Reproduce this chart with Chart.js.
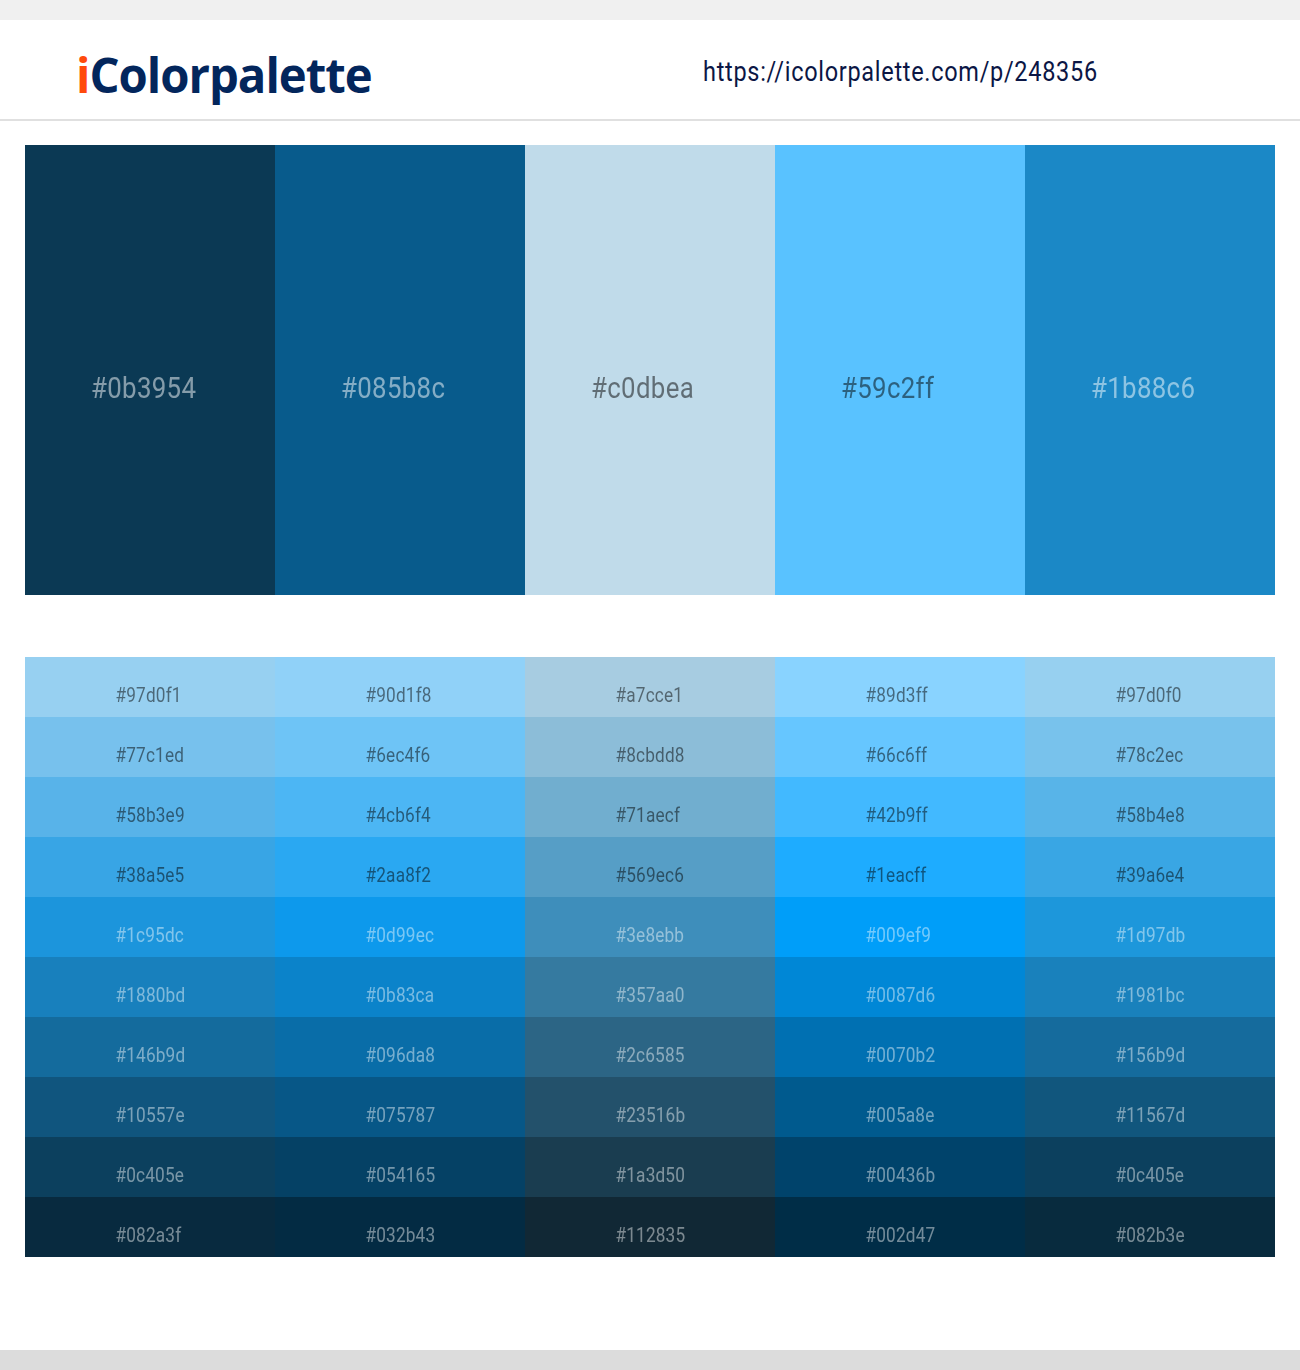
<!DOCTYPE html>
<html>
<head>
<meta charset="utf-8">
<title>iColorpalette 248356</title>
<script src="https://cdn.jsdelivr.net/npm/chart.js@4"></script>
<style>
  html, body { margin: 0; padding: 0; background: #fff; }
  #page { position: relative; width: 1300px; height: 1370px; overflow: hidden; }
  #topBand { position: absolute; left: 0; top: 0; width: 1300px; height: 20px; background: #f0f0f0; }
  #headerLine { position: absolute; left: 0; top: 119px; width: 1300px; height: 2px; background: #e0e0e0; }
  #footBand { position: absolute; left: 0; top: 1350px; width: 1300px; height: 20px; background: #dcdcdc; }
  #logo { position: absolute; left: 76px; top: 41px; font: bold 48px/68px "Open Sans", sans-serif; color: #03265c;
    white-space: nowrap; transform-origin: 0 0; transform: scaleX(0.984); letter-spacing: -1px; }
  #logo span { color: #ff4a0c; }
  #url { position: absolute; left: 703px; top: 54px; font: 27px/36px Roboto, sans-serif; color: #0b1645;
    white-space: nowrap; transform-origin: 0 0; transform: scaleX(0.87); letter-spacing: 0.81px; }
  #mainChart { position: absolute; left: 25px; top: 145px; }
  #shadeChart { position: absolute; left: 25px; top: 657px; }
</style>
</head>
<body>
<div id="page">
  <div id="topBand"></div>
  <div id="logo"><span>i</span>Colorpalette</div>
  <div id="url">https://icolorpalette.com/p/248356</div>
  <div id="headerLine"></div>
  <canvas id="mainChart" width="1250" height="450"></canvas>
  <canvas id="shadeChart" width="1250" height="600"></canvas>
  <div id="footBand"></div>
</div>
<script>
'use strict';

const columns = ['1', '2', '3', '4', '5'];
const mainColors = ['#0b3954', '#085b8c', '#c0dbea', '#59c2ff', '#1b88c6'];
const mainValues = [1, 1, 1, 1, 1];
const mainLabelColors = ['rgba(255,255,255,.5)', 'rgba(255,255,255,.5)', 'rgba(0,0,0,.5)', 'rgba(0,0,0,.5)', 'rgba(255,255,255,.5)'];

// one list per row of the lower table
const shade1 = ['#97d0f1', '#90d1f8', '#a7cce1', '#89d3ff', '#97d0f0'];
const shade2 = ['#77c1ed', '#6ec4f6', '#8cbdd8', '#66c6ff', '#78c2ec'];
const shade3 = ['#58b3e9', '#4cb6f4', '#71aecf', '#42b9ff', '#58b4e8'];
const shade4 = ['#38a5e5', '#2aa8f2', '#569ec6', '#1eacff', '#39a6e4'];
const shade5 = ['#1c95dc', '#0d99ec', '#3e8ebb', '#009ef9', '#1d97db'];
const shade6 = ['#1880bd', '#0b83ca', '#357aa0', '#0087d6', '#1981bc'];
const shade7 = ['#146b9d', '#096da8', '#2c6585', '#0070b2', '#156b9d'];
const shade8 = ['#10557e', '#075787', '#23516b', '#005a8e', '#11567d'];
const shade9 = ['#0c405e', '#054165', '#1a3d50', '#00436b', '#0c405e'];
const shade10 = ['#082a3f', '#032b43', '#112835', '#002d47', '#082b3e'];
const shadeRows = [shade1, shade2, shade3, shade4, shade5, shade6, shade7, shade8, shade9, shade10];
const shadeValues = [1, 1, 1, 1, 1];

const darkText = 'rgba(0,0,0,.5)';
const lightText = 'rgba(255,255,255,.45)';

// writes each hex code on its bar, left aligned at a fixed offset inside the bar
const hexLabels = {
  id: 'hexLabels',
  afterDatasetsDraw(chart, args, opts) {
    const ctx = chart.ctx;
    chart.data.datasets.forEach(function (ds, d) {
      chart.getDatasetMeta(d).data.forEach(function (bar, i) {
        const left = bar.x - bar.width / 2 + opts.offset;
        const middle = (bar.base + bar.y) / 2 + opts.shift;
        ctx.save();
        ctx.font = opts.size + 'px Roboto';
        ctx.letterSpacing = opts.spacing + 'px';
        ctx.fillStyle = ds.textColors[i];
        ctx.textBaseline = 'middle';
        ctx.translate(left, middle);
        ctx.scale(opts.squeeze, 1);
        ctx.fillText(ds.backgroundColor[i], 0, 0);
        ctx.restore();
      });
    });
  }
};

function plainOptions(maxY, labelOpts) {
  return {
    responsive: false,
    animation: false,
    layout: { padding: 0 },
    plugins: { legend: { display: false }, tooltip: { enabled: false }, hexLabels: labelOpts },
    scales: {
      x: { display: false, stacked: true },
      y: { display: false, stacked: true, min: 0, max: maxY, reverse: true }
    }
  };
}

new Chart(document.getElementById('mainChart'), {
  type: 'bar',
  plugins: [hexLabels],
  data: {
    labels: columns,
    datasets: [{
      data: mainValues,
      backgroundColor: mainColors,
      textColors: mainLabelColors,
      borderWidth: 0,
      inflateAmount: 0,
      categoryPercentage: 1,
      barPercentage: 1
    }]
  },
  options: plainOptions(1, { offset: 66, shift: 20, size: 30, squeeze: 0.86, spacing: 0.4 })
});

new Chart(document.getElementById('shadeChart'), {
  type: 'bar',
  plugins: [hexLabels],
  data: {
    labels: columns,
    datasets: shadeRows.map(function (row, r) {
      return {
        data: shadeValues,
        backgroundColor: row,
        textColors: row.map(function () { return r < 4 ? darkText : lightText; }),
        borderWidth: 0,
        inflateAmount: 0,
        categoryPercentage: 1,
        barPercentage: 1
      };
    })
  },
  options: plainOptions(10, { offset: 90.5, shift: 10, size: 20, squeeze: 0.86, spacing: 0.2 })
});
</script>
</body>
</html>
